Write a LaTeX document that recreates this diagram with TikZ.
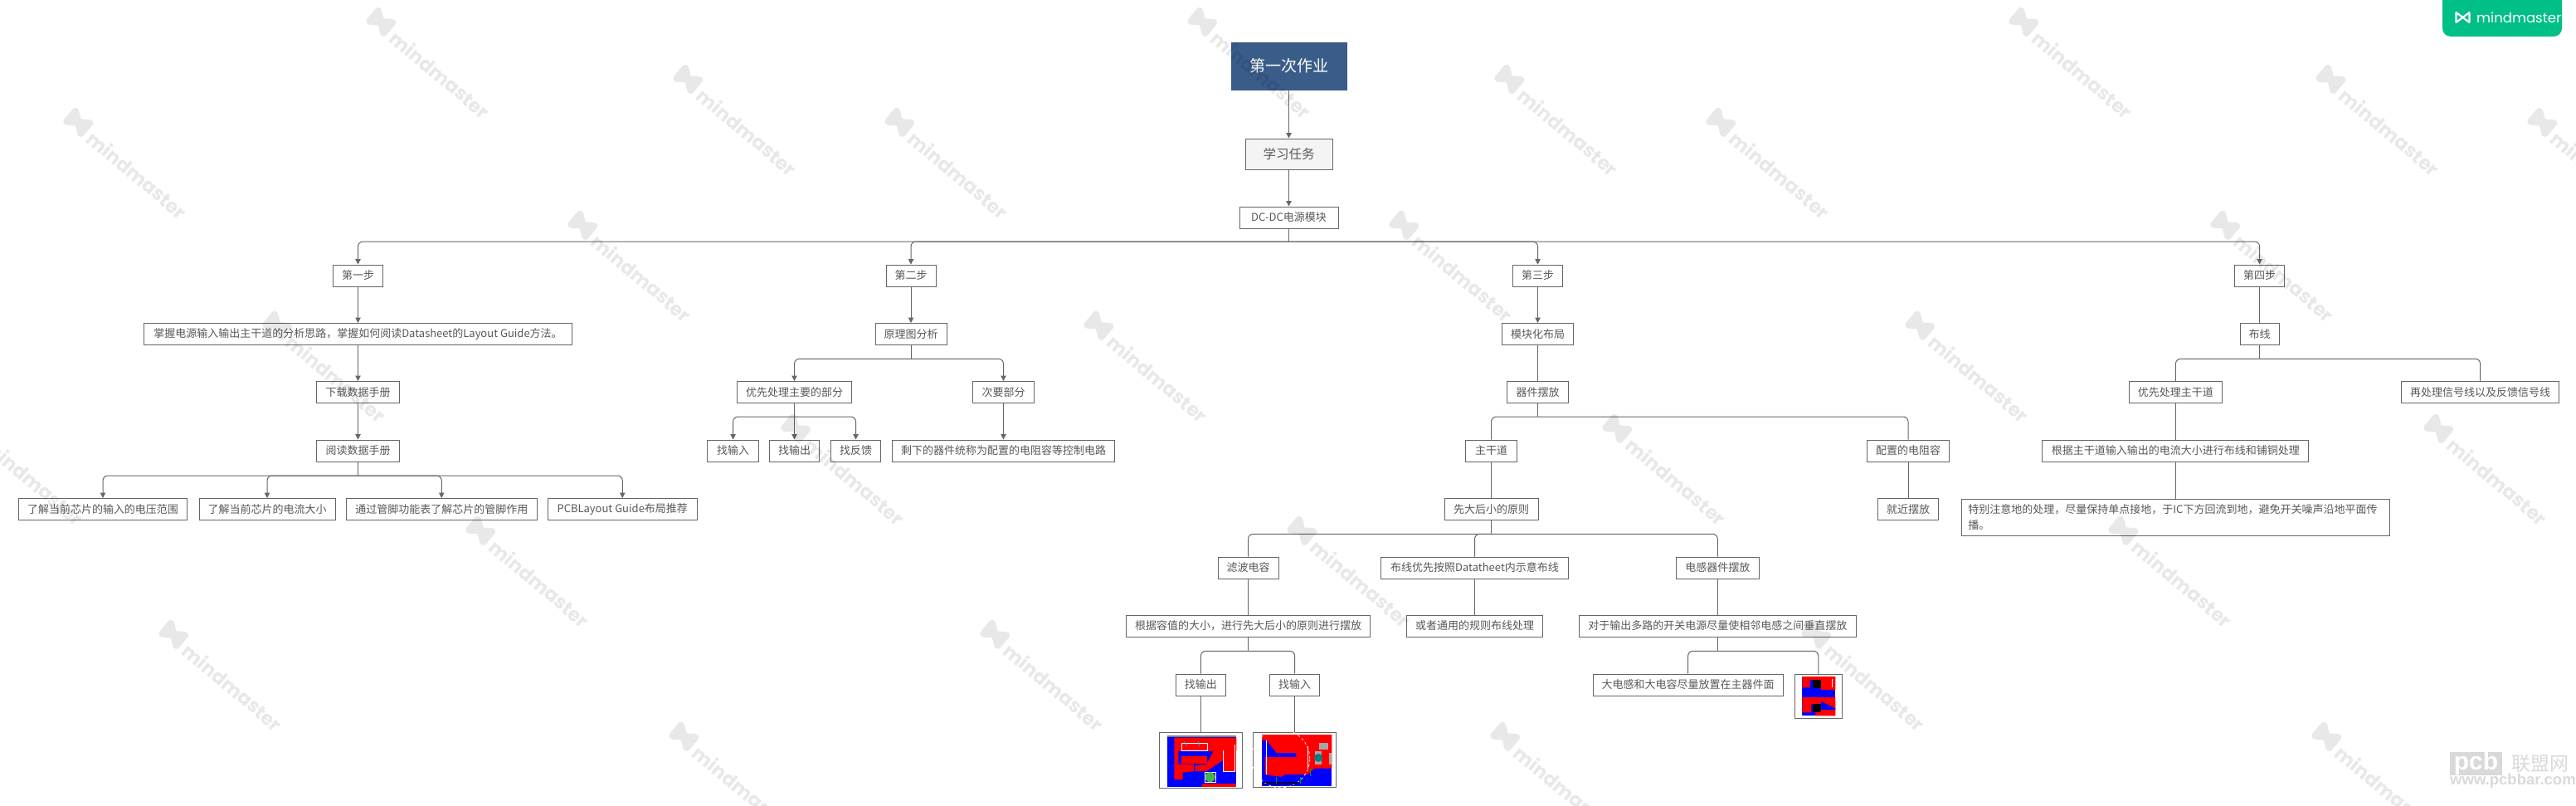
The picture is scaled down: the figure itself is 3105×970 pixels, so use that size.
\documentclass[tikz,border=0pt]{standalone}
\usepackage{fontspec}
\setmainfont{Noto Sans CJK SC}
\newfontfamily\markfont{Poppins}
\newfontfamily\barfont{Liberation Sans}
\usetikzlibrary{arrows.meta}
\definecolor{linegray}{HTML}{666666}
\definecolor{textgray}{HTML}{585858}
\definecolor{rootblue}{HTML}{3A5C88}
\definecolor{taskgray}{HTML}{F4F4F4}
\definecolor{brandgreen}{HTML}{00BF87}
\definecolor{bargray}{HTML}{D9D9D9}
\definecolor{pcbred}{HTML}{FF0000}
\definecolor{pcbblue}{HTML}{0000FF}
\tikzset{
  tbox/.style={draw=linegray, line width=1pt, fill=white, text=textgray, inner sep=0pt,
    minimum width=#1, minimum height=26pt, font=\fontsize{13}{19}\selectfont},
  picbox/.style={draw=linegray, line width=1pt, fill=white, inner sep=0pt},
  linkline/.style={draw=linegray, line width=1pt},
  arrowline/.style={linkline, -{Triangle[width=6.5pt,length=6.5pt]}},
  busline/.style={linkline, rounded corners=6pt},
  busarrow/.style={arrowline, rounded corners=6pt},
  wmark/.style={opacity=.09}
}
\begin{document}
\begin{tikzpicture}[x=1pt,y=1pt]
    \clip (0,0) rectangle (3105,-970);

    \node [draw=rootblue, fill=rootblue, text=white, inner sep=0pt, minimum width=139pt, minimum height=57pt, font=\fontsize{19}{21}\selectfont] (root) at (1553.5,-79.5) {第一次作业};
    \node [tbox=105pt, minimum height=37pt, fill=taskgray, font=\fontsize{15.5}{18}\selectfont] (task) at (1553.5,-185.5) {学习任务};
    \node [tbox=119pt] (dcmod) at (1553.5,-262) {DC-DC电源模块};

    \node [tbox=60pt] (stepa) at (431.5,-332) {第一步};
    \node [tbox=516pt] (master) at (431.5,-402.5) {掌握电源输入输出主干道的分析思路，掌握如何阅读Datasheet的Layout Guide方法。};
    \node [tbox=99.5pt] (download) at (431.5,-472.5) {下载数据手册};
    \node [tbox=99.5pt] (readdoc) at (431.5,-543) {阅读数据手册};
    \node [tbox=203pt] (inrange) at (124,-613.5) {了解当前芯片的输入的电压范围};
    \node [tbox=164pt] (current) at (322,-613.5) {了解当前芯片的电流大小};
    \node [tbox=229.5pt] (pinfunc) at (532.25,-613.5) {通过管脚功能表了解芯片的管脚作用};
    \node [tbox=180.5pt] (guide) at (750.25,-613.5) {PCBLayout Guide布局推荐};

    \node [tbox=60pt] (stepb) at (1098,-332) {第二步};
    \node [tbox=86pt] (schem) at (1098,-402.5) {原理图分析};
    \node [tbox=138.5pt] (mainpart) at (957.5,-472.5) {优先处理主要的部分};
    \node [tbox=74pt] (minorpart) at (1209.5,-472.5) {次要部分};
    \node [tbox=61.6pt] (findin) at (883.6,-543) {找输入};
    \node [tbox=60pt] (findout) at (957.5,-543) {找输出};
    \node [tbox=60.4pt] (findfb) at (1031.5,-543) {找反馈};
    \node [tbox=268.5pt] (remain) at (1209.5,-543) {剩下的器件统称为配置的电阻容等控制电路};

    \node [tbox=60pt] (stepc) at (1853.5,-332) {第三步};
    \node [tbox=86pt] (modular) at (1853.5,-402.5) {模块化布局};
    \node [tbox=74pt] (place) at (1853.5,-472.5) {器件摆放};
    \node [tbox=61.2pt] (trunk) at (1797.5,-543) {主干道};
    \node [tbox=99.2pt] (config) at (2300,-543) {配置的电阻容};
    \node [tbox=113pt] (bigfirst) at (1797.5,-613.5) {先大后小的原则};
    \node [tbox=73.2pt] (nearby) at (2300,-613.5) {就近摆放};
    \node [tbox=73pt] (filter) at (1504.5,-684) {滤波电容};
    \node [tbox=226.2pt] (follow) at (1777.5,-684) {布线优先按照Datatheet内示意布线};
    \node [tbox=99.7pt] (inductor) at (2070.3,-684) {电感器件摆放};
    \node [tbox=294pt] (capval) at (1504.5,-754) {根据容值的大小，进行先大后小的原则进行摆放};
    \node [tbox=163.8pt] (common) at (1777.5,-754) {或者通用的规则布线处理};
    \node [tbox=334pt] (multi) at (2070.3,-754) {对于输出多路的开关电源尽量使相邻电感之间垂直摆放};
    \node [tbox=60pt] (capout) at (1447.4,-825) {找输出};
    \node [tbox=60pt] (capin) at (1560.6,-825) {找输入};
    \node [tbox=229pt] (bigpart) at (2034.6,-825) {大电感和大电容尽量放置在主器件面};
    \node [picbox, minimum width=100pt, minimum height=67pt] (picout) at (1447.4,-915.8) {};
    \node [picbox, minimum width=100pt, minimum height=66pt] (picin) at (1560.6,-915.3) {};
    \node [picbox, minimum width=57.2pt, minimum height=53pt] (picsmall) at (2191.8,-838.8) {};

    \node [tbox=60.7pt] (stepd) at (2723.6,-332) {第四步};
    \node [tbox=47.2pt] (wiring) at (2723.6,-402.5) {布线};
    \node [tbox=112.8pt] (maintrace) at (2622.4,-472.5) {优先处理主干道};
    \node [tbox=190pt] (signal) at (2989.6,-472.5) {再处理信号线以及反馈信号线};
    \node [tbox=321pt] (bycurrent) at (2622.4,-543) {根据主干道输入输出的电流大小进行布线和铺铜处理};
    \node [tbox=516.2pt, minimum height=44pt, text width=500pt, align=left] (ground) at (2622.4,-623.3) {特别注意地的处理，尽量保持单点接地，于IC下方回流到地，避免开关噪声沿地平面传\\播。};

    \coordinate (busdc) at (1553.5,-291);
    \coordinate (busread) at (431.5,-573);
    \coordinate (busschem) at (1098,-432.3);
    \coordinate (busmain) at (957.5,-502);
    \coordinate (busplace) at (1853.5,-502);
    \coordinate (busbig) at (1797.5,-643.3);
    \coordinate (buscap) at (1504.5,-784.3);
    \coordinate (busmulti) at (2070.3,-784.3);
    \coordinate (buswire) at (2723.6,-432.3);

    \draw [arrowline] (root) -- (task);
    \draw [arrowline] (task) -- (dcmod);
    \draw [linkline] (dcmod) -- (busdc);
    \foreach \kid in {stepa,stepb,stepc,stepd}
      \draw [busarrow] (busdc) -| (\kid.north);

    \draw [arrowline] (stepa) -- (master);
    \draw [arrowline] (master) -- (download);
    \draw [arrowline] (download) -- (readdoc);
    \draw [linkline] (readdoc) -- (busread);
    \foreach \kid in {inrange,current,pinfunc,guide}
      \draw [busarrow] (busread) -| (\kid.north);

    \draw [arrowline] (stepb) -- (schem);
    \draw [linkline] (schem) -- (busschem);
    \foreach \kid in {mainpart,minorpart}
      \draw [busarrow] (busschem) -| (\kid.north);
    \draw [linkline] (mainpart) -- (busmain);
    \draw [arrowline] (busmain) -- (findout);
    \foreach \kid in {findin,findfb}
      \draw [busarrow] (busmain) -| (\kid.north);
    \draw [arrowline] (minorpart) -- (remain);

    \draw [arrowline] (stepc) -- (modular);
    \draw [linkline] (modular) -- (place);
    \draw [linkline] (place) -- (busplace);
    \foreach \kid in {trunk,config}
      \draw [busline] (busplace) -| (\kid.north);
    \draw [linkline] (trunk) -- (bigfirst);
    \draw [linkline] (config) -- (nearby);
    \draw [linkline] (bigfirst) -- (busbig);
    \foreach \kid in {filter,follow,inductor}
      \draw [busline] (busbig) -| (\kid.north);
    \draw [linkline] (filter) -- (capval);
    \draw [linkline] (follow) -- (common);
    \draw [linkline] (inductor) -- (multi);
    \draw [linkline] (capval) -- (buscap);
    \foreach \kid in {capout,capin}
      \draw [busline] (buscap) -| (\kid.north);
    \draw [linkline] (capout) -- (picout);
    \draw [linkline] (capin) -- (picin);
    \draw [linkline] (multi) -- (busmulti);
    \foreach \kid in {bigpart,picsmall}
      \draw [busline] (busmulti) -| (\kid.north);

    \draw [linkline] (stepd) -- (wiring);
    \draw [linkline] (wiring) -- (buswire);
    \foreach \kid in {maintrace,signal}
      \draw [busline] (buswire) -| (\kid.north);
    \draw [linkline] (maintrace) -- (bycurrent);
    \draw [linkline] (bycurrent) -- (ground);

    \begin{scope}[shift={(1390,-875)}, x=.338pt, y=-.338pt]
      \fill [pcbblue] (50,33) rectangle (297,215);
      \fill [gray] (50,33) rectangle (297,38);
      \fill [pcbred] (75,40) -- (297,40) -- (297,88) -- (90,88) -- (90,135) -- (75,135) -- cycle;
      \fill [pcbred] (102,105) rectangle (192,133);
      \fill [pcbred] (75,135) -- (145,135) -- (145,160) -- (105,165) -- (105,190) -- (75,190) -- cycle;
      \fill [pcbred] (215,88) -- (250,88) -- (250,120) -- (190,160) -- (150,160) -- (150,140) -- (190,135) -- cycle;
      \fill [pcbred] (250,88) rectangle (297,160);
      \fill [pcbred] (175,205) rectangle (297,215);
      \draw [white, line width=.7pt] (250,85) -- (250,160) -- (292,160) -- (292,65);
      \draw [white, line width=.7pt] (103,60) rectangle (192,88);
      \draw [white, line width=.7pt] (185,165) rectangle (222,198);
      \fill [gray!60!green] (203,181) circle (6pt);
      \draw [cyan, line width=1pt] (112,55) -- (120,70) (160,55) -- (165,70);
    \end{scope}

    \begin{scope}[shift={(1390,-875)}, x=.338pt, y=-.338pt]
      \fill [pcbblue] (388,30) rectangle (637,212);
      \fill [pcbred] (388,30) -- (637,30) -- (637,150) -- (575,150) -- (550,172) -- (470,172) -- (455,180) -- (400,172) -- (400,110) -- (510,110) -- (510,95) -- (440,95) -- (405,50) -- (388,50) -- cycle;
      \draw [white, line width=.7pt] (403,50) -- (403,172);
      \draw [white, line width=.7pt, dashed] (455,115) circle (35pt);
      \draw [white, line width=.7pt] (550,70) -- (550,150);
      \fill [gray!70] (578,90) rectangle (600,135);
      \fill [teal] (589,112) circle (5pt);
      \fill [gray!70] (592,60) rectangle (625,82);
      \fill [gray!70] (628,95) rectangle (637,135);
      \draw [black, line width=.8pt] (390,198) -- (520,198) (390,206) -- (520,206);
      \draw [green!60!black, line width=1pt] (438,180) -- (438,205) (525,180) -- (525,205) (561,150) -- (561,178);
    \end{scope}

    \begin{scope}[shift={(2150,-805)}, x=.3333pt, y=-.3333pt]
      \fill [pcbblue] (67,30) rectangle (187,172);
      \fill [pcbred] (67,30) -- (187,30) -- (187,78) -- (135,78) -- (135,42) -- (95,42) -- (95,70) -- (67,70) -- cycle;
      \fill [pcbred] (67,105) -- (187,105) -- (187,172) -- (115,172) -- (115,130) -- (100,130) -- (100,160) -- (67,160) -- cycle;
      \fill [pcbblue] (135,120) -- (187,145) -- (187,150) -- (135,150) -- cycle;
      \fill [black] (105,42) rectangle (135,72);
      \fill [black] (105,130) rectangle (135,160);
      \draw [white, line width=.7pt] (175,38) -- (175,70);
    \end{scope}

    \foreach \wx/\wy in {460/-27,1450/-27,2440/-27,
                         95/-148,1085/-148,2075/-148,3065/-148,
                         703/-272,1693/-272,2683/-272,
                         335/-393,1325/-393,2315/-393,
                         -30/-517,960/-517,1950/-517,2940/-517,
                         580/-640,1570/-640,2560/-640,
                         210/-765,1200/-765,2190/-765,
                         825/-888,1815/-888,2805/-888,
                         830/-96,1820/-96,2810/-96}
    {
      \begin{scope}[shift={(\wx,\wy)}, rotate=-40, wmark]
        \draw [line width=8.5pt, line join=round] (-12,8) -- (-12,-8) -- (10,8) -- (10,-8) -- cycle;
        \node [anchor=west, inner sep=0pt, transform shape, font=\markfont\bfseries\fontsize{23}{25}\selectfont] (wmark\wx) at (20,-3) {mindmaster};
      \end{scope}
    }

    \fill [brandgreen, rounded corners=10pt] (2944,10) rectangle (3088,-44);
    \draw [white, line width=2.2pt, line join=round] (2960.5,-15) -- (2960.5,-27) -- (2976.5,-15) -- (2976.5,-27) -- cycle;
    \node [anchor=west, inner sep=0pt, text=white, font=\markfont\fontsize{16.5}{18}\selectfont] (brand) at (2985,-21) {mindmaster};

    \node [fill=bargray, text=white, inner sep=0pt, minimum width=63pt, minimum height=26pt, font=\barfont\bfseries\fontsize{30}{30}\selectfont] (barlogo) at (2984.5,-920) {pcb};
    \node [anchor=west, inner sep=0pt, text=bargray, font=\fontsize{23}{25}\selectfont] (barname) at (3027,-920) {联盟网};
    \node [anchor=west, inner sep=0pt, text=bargray, font=\barfont\bfseries\fontsize{18.5}{20}\selectfont] (barurl) at (2953,-941) {www.pcbbar.com};
\end{tikzpicture}
\end{document}
